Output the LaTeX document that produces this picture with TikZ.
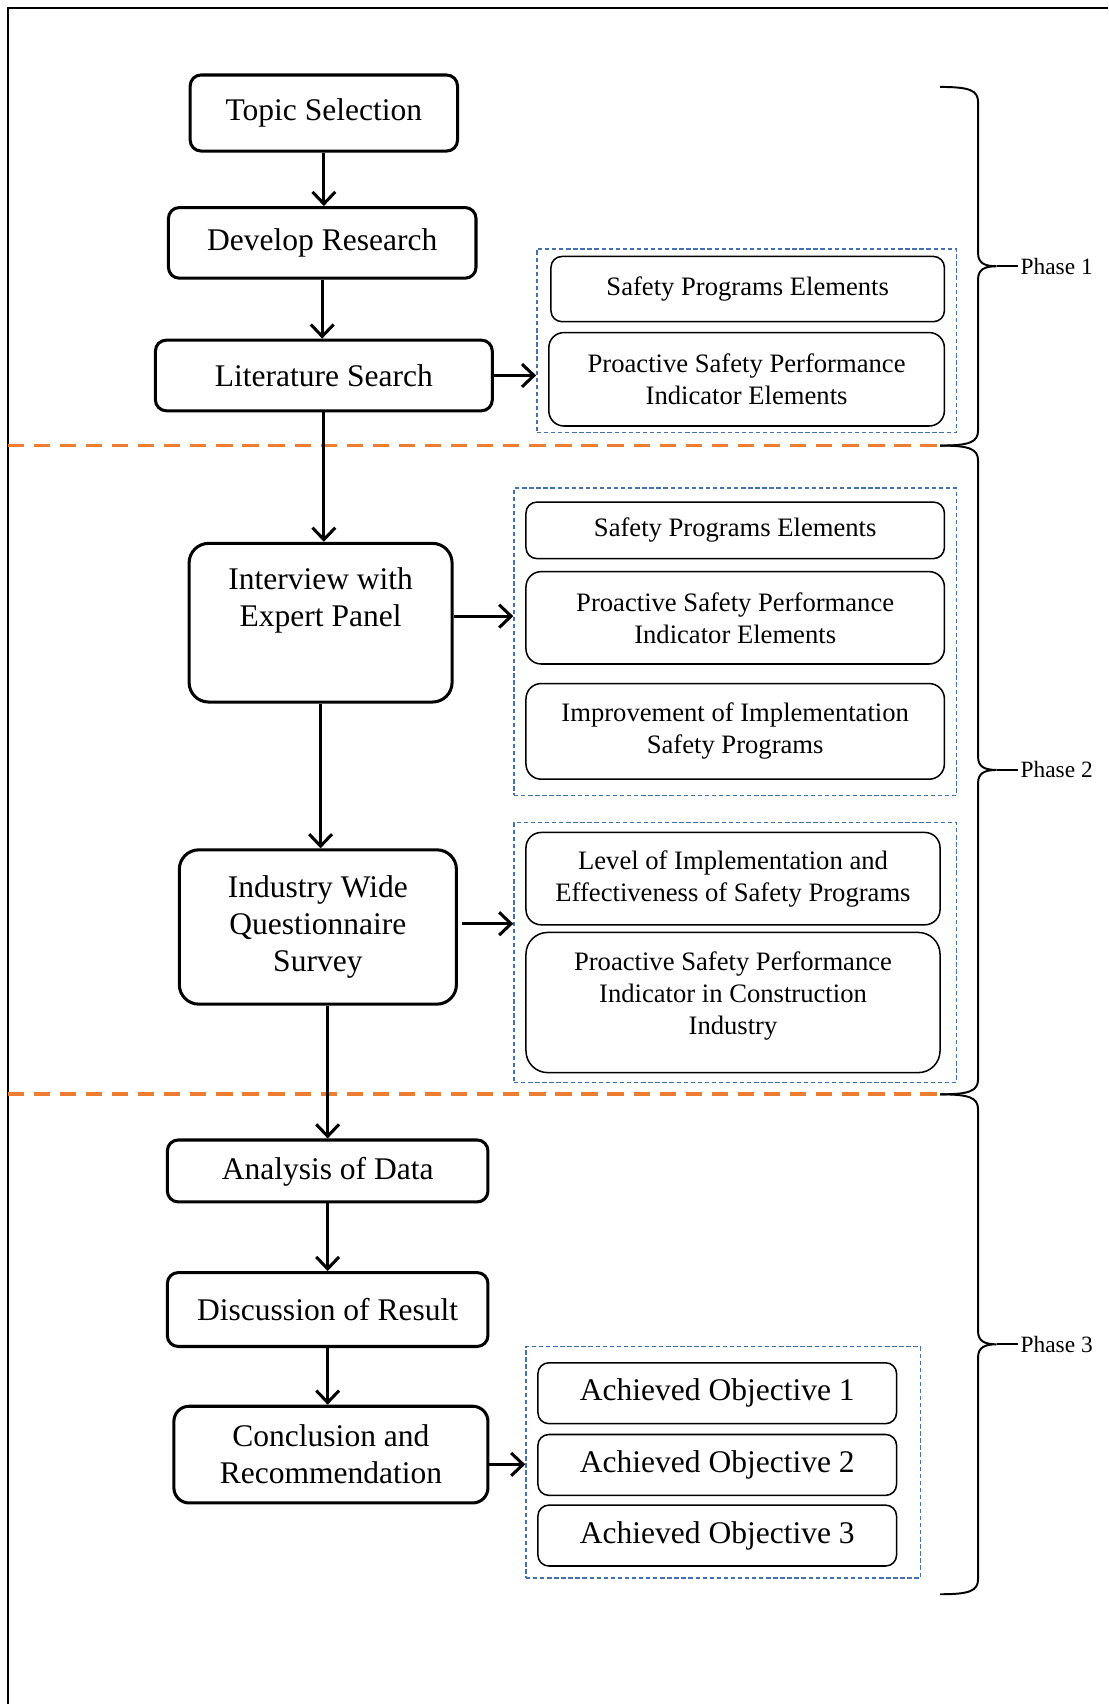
\documentclass[tikz,border=0pt]{standalone}
\usepackage{fontspec}
\setmainfont{Liberation Serif}
\usetikzlibrary{arrows.meta}
\definecolor{blueline}{RGB}{68,114,176}
\definecolor{orangeline}{RGB}{237,125,49}
\tikzset{>={Straight Barb[length=11pt,width=21pt]}}

\begin{document}
\begin{tikzpicture}[x=1pt, y=-1pt,
    bigbox/.style={draw, line width=2.8pt, rounded corners=10pt, align=center, inner sep=0pt, font=\fontsize{29}{34}\selectfont},
    itembox/.style={draw, line width=1.4pt, rounded corners=10pt, align=center, inner sep=0pt, font=\fontsize{24.5}{29.5}\selectfont},
    groupbox/.style={draw=blueline, line width=1.3pt, dash pattern=on 4pt off 2.5pt, inner sep=0pt},
    phaseline/.style={orangeline, line width=3.5pt, dash pattern=on 15pt off 9pt},
    flow/.style={->, line width=2.8pt}]
    \useasboundingbox (0,0) rectangle (1020,1568);
    \draw[line width=2pt] (1020,7) -- (7,7) -- (7,1568);

    % phase separators
    \draw[phaseline] (7,410) -- (865,410);
    \draw[phaseline] (7,1007) -- (865,1007);

    % main steps
    \node[bigbox, minimum width=246pt, minimum height=70pt] (topic) at (298,104) {Topic Selection};
    \node[bigbox, minimum width=283pt, minimum height=65pt] (develop) at (296.5,223.5) {Develop Research};
    \node[bigbox, minimum width=310pt, minimum height=65pt] (lit) at (298,345.5) {Literature Search};
    \node[bigbox, rounded corners=18pt, minimum width=242pt, minimum height=146pt, text depth=48pt] (interview) at (295,573) {Interview with\\Expert Panel};
    \node[bigbox, rounded corners=18pt, minimum width=255pt, minimum height=142pt] (survey) at (292.5,853) {Industry Wide\\Questionnaire\\Survey};
    \node[bigbox, minimum width=295pt, minimum height=57pt, text depth=4pt] (analysis) at (301.5,1077.5) {Analysis of Data};
    \node[bigbox, minimum width=295pt, minimum height=68pt] (discussion) at (301.5,1205) {Discussion of Result};
    \node[bigbox, rounded corners=14pt, minimum width=289pt, minimum height=89pt] (conclusion) at (304.5,1338.5) {Conclusion and\\Recommendation};

    % phase 1 outcomes
    \node[groupbox, minimum width=386pt, minimum height=169pt] (g1) at (687,313.5) {};
    \node[itembox, minimum width=362pt, minimum height=60pt] (sp1) at (688,266) {Safety Programs Elements};
    \node[itembox, rounded corners=14pt, minimum width=364pt, minimum height=86pt] (pspi1) at (687,349) {Proactive Safety Performance\\Indicator Elements};

    % phase 2 outcomes
    \node[groupbox, minimum width=407pt, minimum height=283pt] (g2) at (676.5,590.5) {};
    \node[itembox, minimum width=385pt, minimum height=52pt] (sp2) at (676.5,488) {Safety Programs Elements};
    \node[itembox, rounded corners=14pt, minimum width=385pt, minimum height=85pt] (pspi2) at (676.5,568.5) {Proactive Safety Performance\\Indicator Elements};
    \node[itembox, rounded corners=14pt, minimum width=385pt, minimum height=88pt] (improve) at (676.5,673) {Improvement of Implementation\\Safety Programs};
    \node[groupbox, minimum width=407pt, minimum height=239pt] (g3) at (676.5,876.5) {};
    \node[itembox, rounded corners=14pt, minimum width=381pt, minimum height=85pt] (level) at (674.5,808.5) {Level of Implementation and\\Effectiveness of Safety Programs};
    \node[itembox, rounded corners=20pt, minimum width=381pt, minimum height=129pt, text depth=18pt] (pspi3) at (674.5,922.5) {Proactive Safety Performance\\Indicator in Construction\\Industry};

    % phase 3 outcomes
    \node[groupbox, minimum width=363pt, minimum height=213pt] (g4) at (665.5,1345.5) {};
    \foreach \i/\y in {1/1282, 2/1348, 3/1413}
        \node[itembox, font=\fontsize{29}{34}\selectfont, minimum width=330pt, minimum height=56pt] (obj\i) at (660,\y) {Achieved Objective \i};

    % flow
    \draw[flow] (topic.south) -- (topic.south |- develop.north);
    \draw[flow] (develop.south) -- (develop.south |- lit.north);
    \draw[flow] (lit.south) -- (lit.south |- interview.north);
    \draw[flow] (interview.south) -- (interview.south |- survey.north);
    \draw[flow] (analysis.north |- survey.south) -- (analysis.north);
    \draw[flow] (analysis.south) -- (discussion.north);
    \draw[flow] (discussion.south) -- (discussion.south |- conclusion.north);
    \draw[flow] (lit.east) -- (lit.east -| g1.west);
    \draw[flow] ([yshift=6pt]interview.east) -- ([yshift=6pt]interview.east -| g2.west);
    \draw[flow, shorten <=4pt] ([yshift=3pt]survey.east) -- ([yshift=3pt]survey.east -| g3.west);
    \draw[flow] ([yshift=-9pt]conclusion.east) -- ([yshift=-9pt]conclusion.east -| g4.west);

    % phase braces
    \foreach \ya/\yb/\p in {80/410/1, 410/1007/2, 1007/1467/3}{
        \pgfmathsetmacro\ym{(\ya+\yb)/2}
        \draw[line width=1.8pt] (865,\ya) .. controls (892,\ya) and (900,\ya+3) .. (900,\ya+14)
            -- (900,\ym-12) .. controls (900,\ym-3) and (906,\ym) .. (917,\ym)
            .. controls (906,\ym) and (900,\ym+3) .. (900,\ym+12)
            -- (900,\yb-14) .. controls (900,\yb-3) and (892,\yb) .. (865,\yb);
        \node[anchor=west, inner sep=2pt, font=\fontsize{21.5}{25}\selectfont] (phase\p) at (937,\ym) {Phase \p};
        \draw[line width=1.5pt] (917,\ym) -- (phase\p.west);
    }
\end{tikzpicture}
\end{document}
